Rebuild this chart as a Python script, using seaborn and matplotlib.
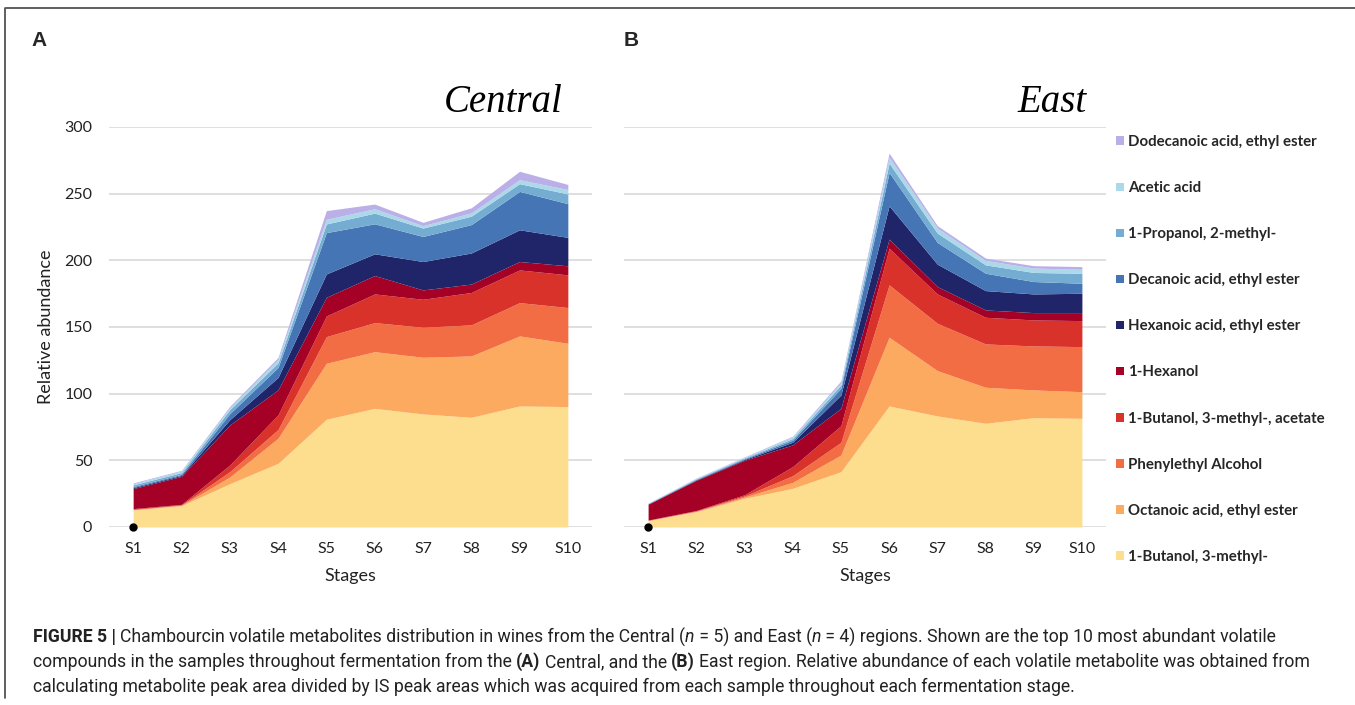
import matplotlib
matplotlib.use("Agg")
import matplotlib.pyplot as plt
from matplotlib.patches import Patch
from matplotlib.lines import Line2D
import seaborn as sns
import numpy as np

# ---------------- data ----------------
stages = ["S1", "S2", "S3", "S4", "S5", "S6", "S7", "S8", "S9", "S10"]
compounds = ["1-Butanol, 3-methyl-", "Octanoic acid, ethyl ester", "Phenylethyl Alcohol",
             "1-Butanol, 3-methyl-, acetate", "1-Hexanol", "Hexanoic acid, ethyl ester",
             "Decanoic acid, ethyl ester", "1-Propanol, 2-methyl-", "Acetic acid",
             "Dodecanoic acid, ethyl ester"]

central_butanol   = [12.8, 16.0, 32.5, 47.8, 80.8, 89.0, 84.8, 82.3, 90.8, 90.3]
central_octanoic  = [0.2, 0.3, 5.0, 18.8, 42.0, 42.5, 42.5, 46.0, 52.5, 47.5]
central_phenyl    = [0.3, 0.3, 4.0, 6.5, 20.0, 21.8, 22.5, 23.3, 25.0, 26.8]
central_acetate   = [0.5, 0.4, 5.0, 11.0, 15.5, 21.5, 21.0, 24.3, 24.5, 24.5]
central_hexanol   = [15.0, 21.0, 30.0, 18.8, 14.0, 13.8, 7.0, 6.3, 6.3, 6.8]
central_hexanoic  = [0.7, 0.7, 4.0, 9.3, 17.5, 16.3, 21.3, 23.3, 23.8, 21.3]
central_decanoic  = [0.8, 0.8, 4.5, 7.5, 31.0, 22.5, 18.8, 21.3, 28.8, 25.3]
central_propanol  = [1.3, 1.3, 3.0, 3.5, 6.5, 8.0, 6.3, 6.3, 5.8, 7.3]
central_acetic    = [1.0, 1.2, 1.5, 2.5, 3.5, 3.3, 1.8, 2.5, 3.0, 3.3]
central_dodecanoic = [0.5, 0.5, 1.0, 1.5, 6.5, 3.5, 2.5, 3.8, 6.3, 3.8]

east_butanol   = [4.8, 11.5, 21.5, 29.0, 41.5, 90.8, 83.3, 77.8, 82.0, 81.5]
east_octanoic  = [0.15, 0.3, 1.0, 4.5, 12.5, 51.5, 34.0, 27.0, 20.8, 20.0]
east_phenyl    = [0.15, 0.3, 0.8, 5.0, 9.5, 39.3, 35.5, 32.5, 33.0, 33.8]
east_acetate   = [0.15, 0.3, 0.9, 6.8, 12.5, 27.5, 22.0, 20.0, 19.5, 19.5]
east_hexanol   = [11.8, 22.6, 25.8, 16.3, 13.0, 6.8, 5.5, 5.5, 5.5, 6.0]
east_hexanoic  = [0.2, 0.4, 0.6, 2.0, 10.0, 25.0, 16.8, 14.5, 14.0, 14.5]
east_decanoic  = [0.2, 0.4, 0.6, 1.5, 5.0, 25.0, 16.3, 13.0, 9.3, 7.5]
east_propanol  = [0.2, 0.4, 0.6, 1.3, 2.5, 7.0, 7.0, 6.3, 6.8, 7.5]
east_acetic    = [0.2, 0.4, 0.5, 1.3, 1.8, 4.5, 3.8, 3.3, 3.3, 3.0]
east_dodecanoic = [0.1, 0.2, 0.3, 0.5, 1.3, 3.0, 1.8, 1.8, 1.8, 2.0]

yticks = [0, 50, 100, 150, 200, 250, 300]

central_series = [central_butanol, central_octanoic, central_phenyl, central_acetate,
                  central_hexanol, central_hexanoic, central_decanoic, central_propanol,
                  central_acetic, central_dodecanoic]
east_series = [east_butanol, east_octanoic, east_phenyl, east_acetate, east_hexanol,
               east_hexanoic, east_decanoic, east_propanol, east_acetic, east_dodecanoic]

# ---------------- style ----------------
sns.set_theme(style="white")
plt.rcParams["font.family"] = ["Lato", "DejaVu Sans"]

colors = sns.color_palette(["#FDDE8F", "#FBAA5F", "#F26D43", "#D8322A", "#A50026",
                            "#202468", "#4575B4", "#74ADD1", "#ABD9E9", "#BBAFE8"])

W, H = 1355, 705
fig = plt.figure(figsize=(W / 100, H / 100), dpi=100)

def px_axes(left, right, top, bottom):
    return fig.add_axes([left / W, 1 - bottom / H, (right - left) / W, (bottom - top) / H])

ax_c = px_axes(109, 592, 127, 527)
ax_e = px_axes(624, 1106, 127, 527)

x = np.arange(len(stages))
for ax, series, title, tx in [(ax_c, central_series, "Central", 563),
                              (ax_e, east_series, "East", 1087)]:
    ax.stackplot(x, *series, colors=colors, linewidth=0, zorder=2)
    ax.plot(x[0], 0, "o", color="black", ms=5, zorder=5, clip_on=False)
    ax.set_xlim(-0.5, len(stages) - 0.5)
    ax.set_ylim(0, 300)
    ax.set_yticks(yticks)
    ax.set_xticks(x)
    ax.set_xticklabels(stages)
    ax.yaxis.grid(True, color="#D9D9D9", linewidth=1.2, zorder=0)
    ax.xaxis.grid(False)
    ax.set_axisbelow(True)
    for s in ax.spines.values():
        s.set_visible(False)
    ax.tick_params(axis="both", length=0, labelsize=11.5, colors="#222222")
    ax.tick_params(axis="x", pad=11)
    ax.tick_params(axis="y", pad=12)
    ax.set_xlabel("Stages", fontsize=13, color="#222222")
    ax.xaxis.set_label_coords(0.5, -(568 - 527) / 400)
    fig.text(tx / W, 1 - 103 / H, title, ha="right", va="center",
             fontsize=28, family="Liberation Serif", style="italic", color="black")

ax_c.set_ylabel("Relative abundance", fontsize=13, color="#222222")
ax_c.yaxis.set_label_coords(-(109 - 54) / 483, 0.5)
ax_e.set_yticklabels([])

fig.text(31 / W, 1 - 40 / H, "A", fontsize=15, weight="bold",
         family="Liberation Sans", va="center", ha="left")
fig.text(624 / W, 1 - 40 / H, "B", fontsize=15, weight="bold",
         family="Liberation Sans", va="center", ha="left")

# legend (top entry = top layer)
handles = [Patch(facecolor=colors[i], edgecolor="none") for i in range(len(compounds))][::-1]
labels = compounds[::-1]
fig.legend(handles, labels, loc="upper left", bbox_to_anchor=(1116 / W, 1 - 135 / H),
           frameon=False, handlelength=0.5, handleheight=0.5, handletextpad=0.3,
           labelspacing=2.14, prop={"family": "Lato", "weight": "bold", "size": 10.8},
           borderaxespad=0, borderpad=0)

# frame around the figure
fig.add_artist(Line2D([6 / W, 1.0], [1 - 8 / H, 1 - 8 / H], transform=fig.transFigure,
                      color="#444444", linewidth=1.2))
fig.add_artist(Line2D([5 / W, 5 / W], [1 - 8 / H, 1 - 698 / H], transform=fig.transFigure,
                      color="#444444", linewidth=1.2))

# caption with mixed formatting
renderer = fig.canvas.get_renderer()
cap_family = ["Liberation Sans Narrow", "Roboto", "DejaVu Sans"]
cap_size = 12.7

def seg_width(txt, kw):
    t1 = fig.text(0, 0, "|" + txt + "|", **kw)
    t2 = fig.text(0, 0, "||", **kw)
    w = t1.get_window_extent(renderer).width - t2.get_window_extent(renderer).width
    t1.remove(); t2.remove()
    return w

def rich_line(x0, y0, segs):
    xp = x0
    for txt, weight, style, gap in segs:
        kw = dict(family=cap_family, size=cap_size, weight=weight, style=style,
                  color="#222222")
        fig.text(xp / W, 1 - y0 / H, txt, va="center", ha="left", **kw)
        xp += seg_width(txt, kw) + gap

N, B, I = ("normal", "normal", 0), ("bold", "normal", 4), ("normal", "italic", 0)
lines = [
    [("FIGURE 5 |", *B), ("Chambourcin volatile metabolites distribution in wines from the Central (", *N),
     ("n", *I), (" = 5) and East (", *N), ("n", *I),
     (" = 4) regions. Shown are the top 10 most abundant volatile", *N)],
    [("compounds in the samples throughout fermentation from the ", *N), ("(A)", *B),
     ("Central, and the ", *N), ("(B)", *B),
     ("East region. Relative abundance of each volatile metabolite was obtained from", *N)],
    [("calculating metabolite peak area divided by IS peak areas which was acquired from each sample throughout each fermentation stage.", *N)],
]
for i, segs in enumerate(lines):
    rich_line(33, 637 + 25 * i, segs)

fig.savefig("out.png", dpi=100)
